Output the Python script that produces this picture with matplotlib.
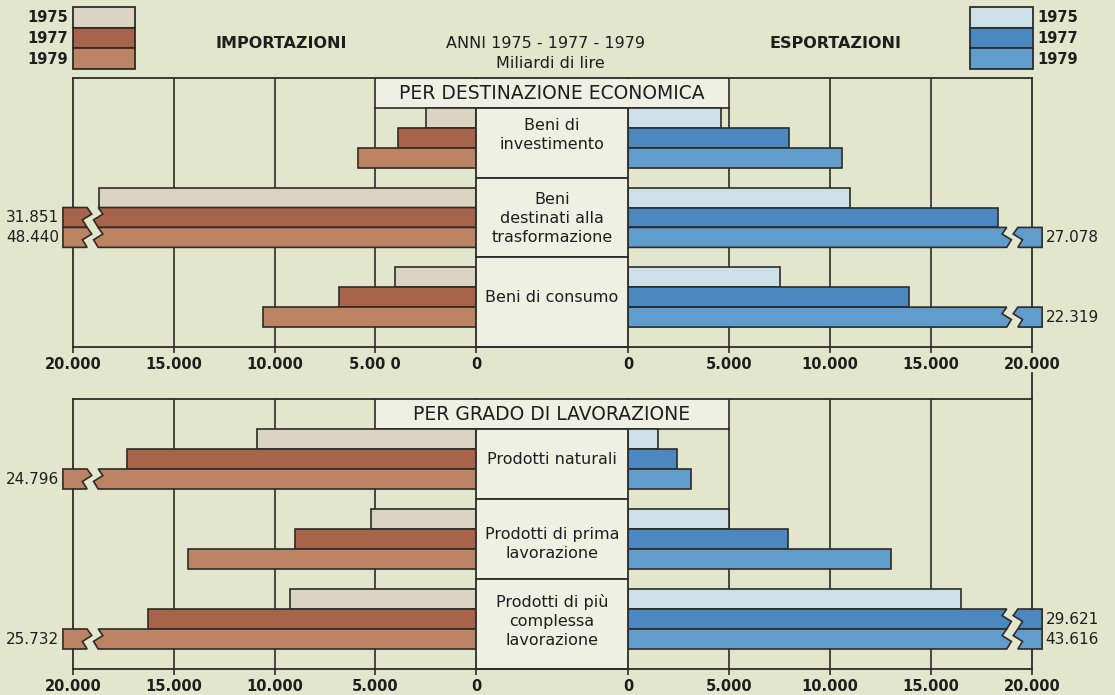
import numpy as np
import matplotlib
matplotlib.use('Agg')
import matplotlib.pyplot as plt
from matplotlib.patches import Rectangle, Polygon

# Dati (miliardi di lire), per categoria -> [1975, 1977, 1979]
anni = ['1975', '1977', '1979']

cat_dest = ['Beni di\ninvestimento', 'Beni\ndestinati alla\ntrasformazione',
            'Beni di consumo']
imp_dest = [[2480, 3870, 5850], [18700, 31851, 48440], [4000, 6800, 10570]]
esp_dest = [[4590, 7950, 10600], [11000, 18300, 27078], [7540, 13900, 22319]]

cat_grado = ['Prodotti naturali', 'Prodotti di prima\nlavorazione',
             'Prodotti di più\ncomplessa\nlavorazione']
imp_grado = [[10870, 17300, 24796], [5200, 8970, 14300], [9220, 16300, 25732]]
esp_grado = [[1500, 2440, 3140], [4980, 7900, 13000], [16500, 29621, 43616]]

tick_vals = [0, 5000, 10000, 15000, 20000]
tick_lab = ['0', '5.000', '10.000', '15.000', '20.000']
tick_lab_imp_top = ['0', '5.00 0', '10.000', '15.000', '20.000']

# Colori
sfondo = '#e2e6cc'
box_col = '#eef0e4'
linea = '#2e2b28'
testo = '#1e1e1e'
col_imp = ['#dcd4c2', '#a8644a', '#bd8464']
col_esp = ['#cde0e8', '#4a88bf', '#619dcc']

W, H = 1115, 695
fig = plt.figure(figsize=(W / 100, H / 100), dpi=100, facecolor=sfondo)


def rett(x0, y0, x1, y1):
    # pixel -> frazioni di figura
    return [x0 / W, 1 - y1 / H, (x1 - x0) / W, (y1 - y0) / H]


CAP = 20500      # lunghezza disegnata delle barre interrotte
B1, B2 = 18750, 19300
Z = 230


def zig(b, y0, h=1.0):
    return [(b, y0), (b - Z, y0 + 0.33 * h), (b + Z, y0 + 0.62 * h), (b, y0 + h)]


def barre(ax, valori, colori, lato):
    for c, vals in enumerate(valori):
        for i, v in enumerate(vals):
            y0 = 4 * c + i
            if v <= 20000:
                ax.barh(y0 + 0.5, v, height=1.0, color=colori[i], edgecolor=linea,
                        linewidth=1.2, zorder=3)
            else:
                p1 = [(0, y0)] + zig(B1, y0) + [(0, y0 + 1)]
                p2 = zig(B2, y0) + [(CAP, y0 + 1), (CAP, y0)]
                for pts in (p1, p2):
                    ax.add_patch(Polygon(pts, closed=True, facecolor=colori[i],
                                         edgecolor=linea, lw=1.2, zorder=3,
                                         clip_on=False))
                s = f'{v / 1000:.3f}'
                ha = 'right' if lato == 'imp' else 'left'
                ax.text(CAP + 180, y0 + 0.5, s, ha=ha, va='center', fontsize=11,
                        color=testo, clip_on=False)


def pannello(y_top, y_bot, imp, esp, cats, txt_y, lab_imp, titolo):
    # importazioni (a sinistra, asse invertito)
    axl = fig.add_axes(rett(73, y_top, 476, y_bot))
    axr = fig.add_axes(rett(628, y_top, 1032, y_bot))
    axm = fig.add_axes(rett(476, y_top, 628, y_bot))
    for ax in (axl, axr, axm):
        ax.set_facecolor('none')
        ax.set_ylim(12, -1.5)
        ax.set_yticks([])
        for s in ax.spines.values():
            s.set_color(linea)
            s.set_linewidth(1.3)
    axl.set_xlim(20000, 0)
    axr.set_xlim(0, 20000)
    axl.spines['right'].set_visible(False)
    axr.spines['left'].set_visible(False)
    axm.spines['left'].set_visible(False)
    axm.spines['right'].set_visible(False)
    axm.set_xlim(0, 1)
    axm.set_xticks([])

    # riquadro chiaro del titolo, fra le due linee dei 5.000
    for ax in (axl, axr):
        ax.add_patch(Rectangle((0, -1.5), 5000, 1.5, facecolor=box_col,
                               edgecolor='none', zorder=0.8))
        ax.plot([0, 5000], [0, 0], color=linea, lw=1.2, zorder=1)
    axm.add_patch(Rectangle((0, -1.5), 1, 1.5, facecolor=box_col,
                            edgecolor='none', zorder=0.8, clip_on=False))
    axm.axhline(0, color=linea, lw=1.2, zorder=1)
    axm.text(0.5, -0.7, titolo, ha='center', va='center', fontsize=13.5,
             color=testo, zorder=5, clip_on=False)

    for ax, lab in ((axl, lab_imp), (axr, tick_lab)):
        ax.set_xticks(tick_vals)
        ax.set_xticklabels(lab, fontweight='bold', fontsize=10.5)
        ax.tick_params(axis='x', length=4, width=1.2, color=linea, pad=3,
                       labelcolor=testo)
        for v in tick_vals[1:4]:
            ax.axvline(v, color=linea, lw=1.2, zorder=1)

    barre(axl, imp, col_imp, 'imp')
    barre(axr, esp, col_esp, 'esp')

    # caselle centrali con le categorie
    lim = [0, 3.5, 7.5, 12]
    for c, nome in enumerate(cats):
        axm.add_patch(Rectangle((0, lim[c]), 1, lim[c + 1] - lim[c],
                                facecolor=box_col, edgecolor=linea, lw=1.3,
                                zorder=2, clip_on=False))
        axm.text(0.5, txt_y[c], nome, ha='center', va='center', fontsize=11.5,
                 linespacing=1.3, color=testo, zorder=4)
    return axl, axr


pannello(78, 347, imp_dest, esp_dest, cat_dest, [1.35, 5.55, 9.5],
         tick_lab_imp_top, 'PER DESTINAZIONE ECONOMICA')
pannello(399, 669, imp_grado, esp_grado, cat_grado, [1.5, 5.75, 9.6],
         tick_lab, 'PER GRADO DI LAVORAZIONE')

# intestazione
fig.text(281 / W, 1 - 44 / H, 'IMPORTAZIONI', ha='center', va='center',
         fontsize=11.5, fontweight='bold', color=testo)
fig.text(835 / W, 1 - 44 / H, 'ESPORTAZIONI', ha='center', va='center',
         fontsize=11.5, fontweight='bold', color=testo)
fig.text(546 / W, 1 - 44 / H, 'ANNI 1975 - 1977 - 1979', ha='center', va='center',
         fontsize=11.5, color=testo)
fig.text(550 / W, 1 - 64 / H, 'Miliardi di lire', ha='center', va='center',
         fontsize=11.5, color=testo)

# legende
axo = fig.add_axes([0, 0, 1, 1], facecolor='none')
axo.set_xlim(0, W)
axo.set_ylim(H, 0)
axo.axis('off')
for i, a in enumerate(anni):
    y0 = 7 + 20.5 * i
    axo.add_patch(Rectangle((73, y0), 62, 20.5, facecolor=col_imp[i],
                            edgecolor=linea, lw=1.3))
    axo.add_patch(Rectangle((970, y0), 63, 20.5, facecolor=col_esp[i],
                            edgecolor=linea, lw=1.3))
    axo.text(68, y0 + 11, a, ha='right', va='center', fontsize=10.5,
             fontweight='bold', color=testo)
    axo.text(1037, y0 + 11, a, ha='left', va='center', fontsize=10.5,
             fontweight='bold', color=testo)
# linea dei 20.000 fra i due pannelli (a destra)
axo.plot([1032, 1032], [373, 399], color=linea, lw=1.3)

fig.savefig('out.png', dpi=100, facecolor=sfondo)
